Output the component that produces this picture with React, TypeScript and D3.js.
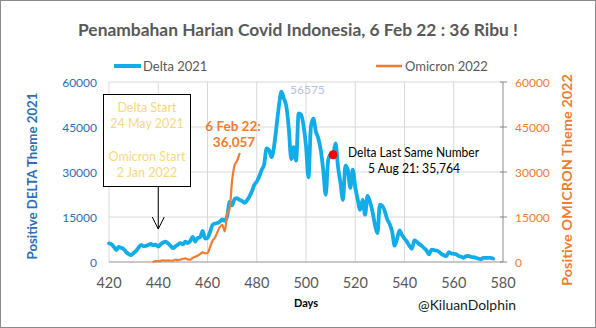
import React from 'react';
import * as d3 from 'd3';

const TITLE = 'Penambahan Harian Covid Indonesia, 6 Feb 22 : 36 Ribu !';
const DELTA_LABEL = 'Delta 2021';
const OMICRON_LABEL = 'Omicron 2022';

// Delta 2021 daily positives, day 420 .. 576
const DELTA_START = 420;
const deltaValues = [
  6200, 5900, 5000, 4000, 5000, 4700, 4300, 3300, 2600, 2300,
  3000, 3700, 4800, 5700, 5300, 5400, 5700, 6000, 5600, 5800,
  5100, 5900, 6500, 6800, 6200, 5400, 4600, 5200, 5800, 6300,
  5900, 6800, 6300, 7000, 8400, 6800, 8000, 8200, 10400, 7800,
  8000, 9900, 12300, 12800, 13000, 13400, 14200, 13700, 15300, 20000,
  18900, 21000, 21300, 20700, 20400, 19700, 20500, 21800, 23500, 25700,
  26800, 28500, 30700, 32500, 37900, 37300, 35000, 38400, 45000, 52000,
  56757, 54500, 52000, 44700, 34300, 38300, 33800, 49500, 49100, 45400,
  38700, 28200, 45200, 47800, 43500, 41200, 37300, 30700, 22400, 33900,
  35900, 35764, 39532, 31753, 26415, 20709, 32081, 30625, 24709, 30788,
  24953, 20813, 17384, 20741, 15768, 22053, 20004, 16744, 12408, 9604,
  19106, 18671, 16899, 14224, 12618, 10050, 5436, 7797, 10534, 8955,
  7797, 6727, 5403, 4413, 7201, 6731, 5990, 5376, 4585, 3779,
  2577, 4128, 3948, 3835, 3385, 2720, 2234, 1932, 3263, 2881,
  2720, 2557, 2017, 1760, 1390, 1954, 2057, 1690, 1624, 1414,
  1142, 922, 1404, 1393, 1393, 1384, 1130,
];

// Omicron 2022 daily positives, day 438 .. 473
const OMICRON_START = 438;
const omicronValues = [
  92, 265, 299, 404, 533, 479, 529, 414, 454, 802,
  646, 802, 1054, 1205, 855, 772, 1362, 1745, 2116, 2604,
  3205, 2925, 2927, 4878, 7010, 8077, 9905, 11588, 12422, 10185,
  16021, 17895, 27197, 32211, 33729, 36057,
];

const xTicks = [420, 440, 460, 480, 500, 520, 540, 560, 580];
const yTicks = [0, 15000, 30000, 45000, 60000];

const PEAK_DAY = 490;
const PEAK_LABEL = '56575';
const LAST_SAME_DAY = 511;
const LAST_SAME_VALUE = 35764;
const ARROW_DAY = 440;

const FONT = 'Lato, "Open Sans", sans-serif';
const BLUE_LINE = '#12ACE8';
const ORANGE = '#ED7D31';
const AXIS_BLUE = '#2E6FB5';
const GRAY_TEXT = '#595959';
const GRID = '#D9D9D9';
const BOX_TEXT = '#F7D87C';

export default function App() {
  const W = 596;
  const H = 328;
  const x = d3.scaleLinear().domain([420, 580]).range([109, 503]);
  const y = d3.scaleLinear().domain([0, 60000]).range([262, 82]);

  const deltaPts: [number, number][] = deltaValues.map((v, i) => [DELTA_START + i, v]);
  const omiPts: [number, number][] = omicronValues.map((v, i) => [OMICRON_START + i, v]);

  const line = d3
    .line<[number, number]>()
    .x((d) => x(d[0]))
    .y((d) => y(d[1]))
    .curve(d3.curveMonotoneX);

  const ax = x(ARROW_DAY);

  return (
    <svg
      width={W}
      height={H}
      viewBox={`0 0 ${W} ${H}`}
      style={{ position: 'absolute', left: 0, top: 0, background: '#fff' }}
      fontFamily={FONT}
    >
      <rect x={0.5} y={0.5} width={W - 1} height={H - 1} fill="#fff" stroke="#8C8C8C" strokeWidth={1} />

      {/* Title */}
      <text
        x={W / 2}
        y={36}
        textAnchor="middle"
        fontSize={17}
        fontWeight={700}
        fill={GRAY_TEXT}
        textLength={440}
        lengthAdjust="spacingAndGlyphs"
      >
        {TITLE}
      </text>

      {/* Legend */}
      <line x1={114} x2={141} y1={66} y2={66} stroke={BLUE_LINE} strokeWidth={4} />
      <text x={143} y={70.5} fontSize={13} fill={GRAY_TEXT}>
        {DELTA_LABEL}
      </text>
      <line x1={376} x2={402} y1={66} y2={66} stroke={ORANGE} strokeWidth={2.5} />
      <text x={405} y={70.5} fontSize={13} fill={GRAY_TEXT}>
        {OMICRON_LABEL}
      </text>

      {/* Gridlines */}
      {yTicks.map((t) => (
        <line key={'hy' + t} x1={x(420)} x2={x(580)} y1={y(t)} y2={y(t)} stroke={GRID} strokeWidth={1} />
      ))}
      {xTicks.slice(0, -1).map((t) => (
        <line key={'vx' + t} x1={x(t)} x2={x(t)} y1={y(60000)} y2={y(0)} stroke={GRID} strokeWidth={1} />
      ))}
      {/* bottom axis */}
      <line x1={x(420)} x2={x(580)} y1={y(0)} y2={y(0)} stroke="#A6A6A6" strokeWidth={1} />
      {/* right axis */}
      <line x1={x(580)} x2={x(580)} y1={y(60000)} y2={y(0)} stroke="#8C8C8C" strokeWidth={1} />
      {yTicks.map((t) => (
        <line key={'rt' + t} x1={x(580) - 3} x2={x(580) + 4} y1={y(t)} y2={y(t)} stroke="#8C8C8C" strokeWidth={1} />
      ))}

      {/* Left ticks */}
      {yTicks.map((t) => (
        <text key={'ly' + t} x={97} y={y(t) + 4.5} textAnchor="end" fontSize={12} fill={AXIS_BLUE}>
          {t}
        </text>
      ))}
      {/* Right ticks */}
      {yTicks.map((t) => (
        <text key={'ry' + t} x={515} y={y(t) + 4.5} fontSize={12} fill={ORANGE}>
          {t}
        </text>
      ))}
      {/* X ticks */}
      {xTicks.map((t) => (
        <text key={'xt' + t} x={x(t)} y={288} textAnchor="middle" fontSize={14.5} fill={GRAY_TEXT}>
          {t}
        </text>
      ))}

      {/* Axis titles */}
      <text
        transform={`translate(37,176) rotate(-90)`}
        textAnchor="middle"
        fontSize={13.5}
        fontWeight={700}
        fill={AXIS_BLUE}
        textLength={167}
        lengthAdjust="spacingAndGlyphs"
      >
        Positive DELTA Theme 2021
      </text>
      <text
        transform={`translate(572,180) rotate(-90)`}
        textAnchor="middle"
        fontSize={13.5}
        fontWeight={700}
        fill={ORANGE}
        textLength={212}
        lengthAdjust="spacingAndGlyphs"
      >
        Positive OMICRON Theme 2022
      </text>
      <text x={306} y={306.5} textAnchor="middle" fontSize={11} fontWeight={700} fill="#000">
        Days
      </text>
      <text x={418} y={310} fontSize={13} fill="#1a1a1a" textLength={98} lengthAdjust="spacingAndGlyphs">
        @KiluanDolphin
      </text>

      {/* Series */}
      <path d={line(deltaPts) || ''} fill="none" stroke={BLUE_LINE} strokeWidth={3.8} strokeLinejoin="round" strokeLinecap="round" />
      <path d={line(omiPts) || ''} fill="none" stroke={ORANGE} strokeWidth={2.2} strokeLinejoin="round" strokeLinecap="round" />

      {/* Peak label */}
      <text x={290} y={94} fontSize={12} fill="#B4C2DC">
        {PEAK_LABEL}
      </text>

      {/* Annotation box */}
      <rect x={103.5} y={94.5} width={87} height={92} fill="#fff" stroke="#000" strokeWidth={1} />
      <text x={147} y={112} textAnchor="middle" fontSize={12.5} fill={BOX_TEXT}>
        Delta Start
      </text>
      <text x={147} y={128} textAnchor="middle" fontSize={12.5} fill={BOX_TEXT}>
        24 May 2021
      </text>
      <text x={147} y={161} textAnchor="middle" fontSize={12.5} fill={BOX_TEXT}>
        Omicron Start
      </text>
      <text x={147} y={177} textAnchor="middle" fontSize={12.5} fill={BOX_TEXT}>
        2 Jan 2022
      </text>
      <line x1={ax} x2={ax} y1={187} y2={229} stroke="#000" strokeWidth={1} />
      <polyline points={`${ax - 6},${217} ${ax},${229} ${ax + 6},${217}`} fill="none" stroke="#000" strokeWidth={1} />

      {/* Omicron end label */}
      <text x={233} y={131} textAnchor="middle" fontSize={13.5} fontWeight={700} fill={ORANGE}>
        6 Feb 22:
      </text>
      <text x={234} y={147} textAnchor="middle" fontSize={13.5} fontWeight={700} fill={ORANGE}>
        36,057
      </text>

      {/* Delta last same number */}
      <circle cx={x(LAST_SAME_DAY)} cy={y(LAST_SAME_VALUE)} r={4.5} fill="#FF0000" />
      <text x={348} y={157} fontSize={12.5} fill="#000" textLength={131} lengthAdjust="spacingAndGlyphs">
        Delta Last Same Number
      </text>
      <text x={368} y={173} fontSize={12.5} fill="#000" textLength={92} lengthAdjust="spacingAndGlyphs">
        5 Aug 21: 35,764
      </text>
    </svg>
  );
}
